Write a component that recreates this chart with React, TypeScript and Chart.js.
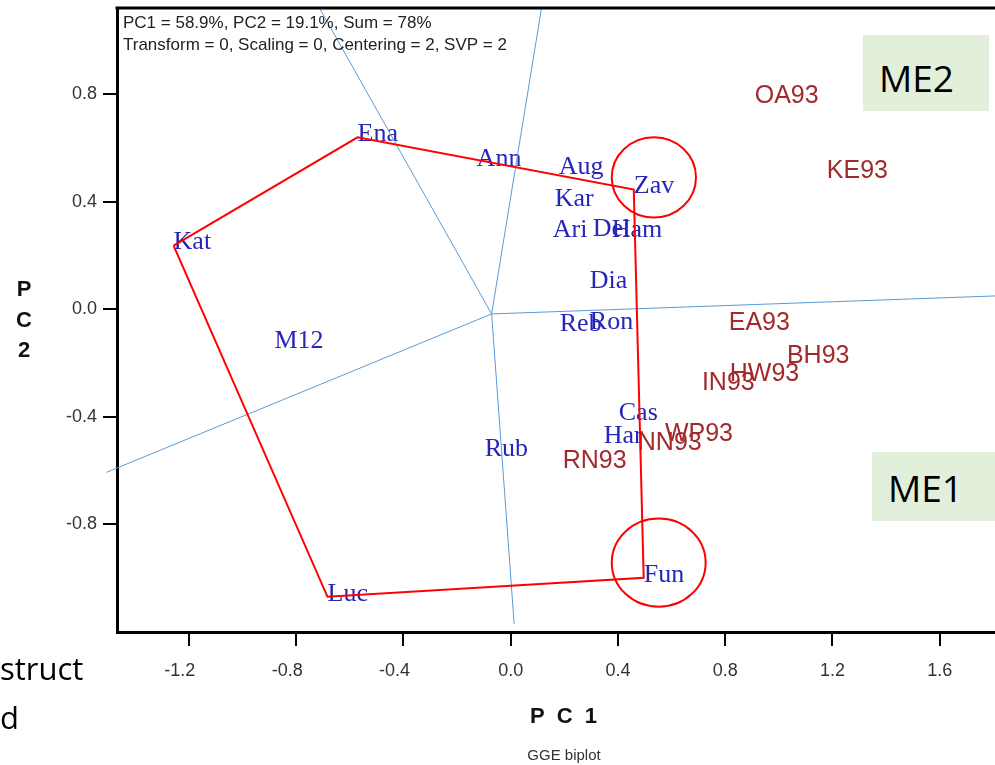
import React, { useEffect, useRef } from 'react';
import { Chart, registerables } from 'chart.js';

Chart.register(...registerables);

// ---- Data ----
const genotypeNames = ['Kat', 'Ena', 'Ann', 'Aug', 'Kar', 'Ari', 'Del', 'Ham', 'Zav', 'Dia', 'Reb', 'Ron', 'M12', 'Cas', 'Har', 'Rub', 'Fun', 'Luc'];
const genotypePC1 = [-1.257, -0.571, -0.127, 0.179, 0.164, 0.157, 0.306, 0.377, 0.459, 0.295, 0.183, 0.295, -0.881, 0.403, 0.347, -0.097, 0.496, -0.683];
const genotypePC2 = [0.237, 0.640, 0.547, 0.517, 0.397, 0.282, 0.289, 0.282, 0.446, 0.095, -0.065, -0.058, -0.129, -0.397, -0.483, -0.532, -0.998, -1.069];

const envNames = ['OA93', 'KE93', 'EA93', 'BH93', 'HW93', 'IN93', 'WP93', 'NN93', 'RN93'];
const envPC1 = [0.910, 1.179, 0.813, 1.030, 0.817, 0.713, 0.575, 0.474, 0.194];
const envPC2 = [0.782, 0.502, -0.062, -0.185, -0.252, -0.285, -0.476, -0.509, -0.576];

// polygon (convex hull) vertices, in drawing order
const hullOrder = ['Kat', 'Ena', 'Zav', 'Fun', 'Luc', 'Kat'];

// rays perpendicular to polygon sides: common origin and end points
const rayOriginPC1 = -0.071;
const rayOriginPC2 = -0.017;
const rayEndPC1 = [-0.713, 0.115, 1.806, -1.507, 0.013];
const rayEndPC2 = [1.121, 1.121, 0.050, -0.606, -1.170];

// highlighted genotypes (red circles): centre and radii in PC units
const circleCenterPC1 = [0.534, 0.552];
const circleCenterPC2 = [0.491, -0.942];
const circleRadiusPC1 = [0.157, 0.175];
const circleRadiusPC2 = [0.149, 0.164];

// axes
const xMin = -1.468;
const xMax = 1.806;
const yMin = -1.2;
const yMax = 1.121;
const tickStep = 0.4;

const headerLines = ['PC1 = 58.9%, PC2 = 19.1%, Sum = 78%', 'Transform = 0, Scaling = 0, Centering = 2, SVP = 2'];
const xTitle = 'P C 1';
const yTitleChars = ['P', 'C', '2'];
const footerText = 'GGE biplot';

const GENO_COLOR = '#2626B8';
const ENV_COLOR = '#A32A2C';
const RAY_COLOR = '#5B9BD5';
const HULL_COLOR = '#FF0000';

const biplotPlugin = {
  id: 'biplotDecor',
  beforeDatasetsDraw(chart: any) {
    const { ctx, scales } = chart;
    const xs = scales.x;
    const ys = scales.y;
    ctx.save();
    ctx.textAlign = 'left';
    ctx.textBaseline = 'middle';
    ctx.font = '26px "Liberation Serif", "Times New Roman", serif';
    ctx.fillStyle = GENO_COLOR;
    genotypeNames.forEach((n, i) => {
      ctx.fillText(n, xs.getPixelForValue(genotypePC1[i]), ys.getPixelForValue(genotypePC2[i]) - 3);
    });
    ctx.font = '25px "Liberation Sans", Arial, sans-serif';
    ctx.fillStyle = ENV_COLOR;
    envNames.forEach((n, i) => {
      ctx.fillText(n, xs.getPixelForValue(envPC1[i]), ys.getPixelForValue(envPC2[i]) - 3);
    });
    ctx.restore();
  },
  afterDatasetsDraw(chart: any) {
    const { ctx, scales } = chart;
    const xs = scales.x;
    const ys = scales.y;
    ctx.save();
    ctx.strokeStyle = HULL_COLOR;
    ctx.lineWidth = 2;
    circleCenterPC1.forEach((cx, i) => {
      const px = xs.getPixelForValue(cx);
      const py = ys.getPixelForValue(circleCenterPC2[i]);
      const rx = Math.abs(xs.getPixelForValue(cx + circleRadiusPC1[i]) - px);
      const ry = Math.abs(ys.getPixelForValue(circleCenterPC2[i] + circleRadiusPC2[i]) - py);
      ctx.beginPath();
      ctx.ellipse(px, py, rx, ry, 0, 0, Math.PI * 2);
      ctx.stroke();
    });
    ctx.restore();
  },
  afterDraw(chart: any) {
    const { ctx, chartArea } = chart;
    ctx.save();
    // top frame line
    ctx.strokeStyle = '#000';
    ctx.lineWidth = 3;
    ctx.beginPath();
    ctx.moveTo(chartArea.left - 1.5, chartArea.top);
    ctx.lineTo(chartArea.right, chartArea.top);
    ctx.stroke();
    // header
    ctx.fillStyle = '#222';
    ctx.font = '17px "Liberation Sans", Arial, sans-serif';
    ctx.textAlign = 'left';
    ctx.textBaseline = 'middle';
    ctx.fillText(headerLines[0], chartArea.left + 6, chartArea.top + 15);
    ctx.fillText(headerLines[1], chartArea.left + 6, chartArea.top + 37);
    // axis titles
    ctx.fillStyle = '#111';
    ctx.font = 'bold 22px "Liberation Sans", Arial, sans-serif';
    ctx.textAlign = 'center';
    (ctx as any).letterSpacing = '3px';
    ctx.fillText(xTitle, 565, 717);
    (ctx as any).letterSpacing = '0px';
    yTitleChars.forEach((c, i) => ctx.fillText(c, 24, 290 + i * 30.5));
    ctx.font = '15px "Liberation Sans", Arial, sans-serif';
    ctx.fillStyle = '#333';
    ctx.fillText(footerText, 564, 756);
    ctx.restore();
  },
};

const fmt = (v: number) => (Math.abs(v) < 1e-9 ? 0 : v).toFixed(1);
// x labels: the digits are centred on the tick, the minus sign hangs to the left
const fmtX = (v: number) => {
  const s = fmt(v);
  return s.startsWith('-') ? s + '\u2003' : s;
};

export default function App() {
  const ref = useRef<HTMLCanvasElement>(null);

  useEffect(() => {
    if (!ref.current) return;
    const pt = (name: string) => {
      const i = genotypeNames.indexOf(name);
      return { x: genotypePC1[i], y: genotypePC2[i] };
    };
    const rayDatasets = rayEndPC1.map((ex, i) => ({
      label: 'ray' + i,
      data: [
        { x: rayOriginPC1, y: rayOriginPC2 },
        { x: ex, y: rayEndPC2[i] },
      ],
      showLine: true,
      borderColor: RAY_COLOR,
      borderWidth: 1,
      pointRadius: 0,
      clip: { left: 15, top: 0, right: 0, bottom: 0 },
    }));

    const chart = new Chart(ref.current, {
      type: 'scatter',
      data: {
        datasets: [
          {
            label: 'hull',
            data: hullOrder.map(pt),
            showLine: true,
            borderColor: HULL_COLOR,
            borderWidth: 2,
            pointRadius: 0,
          },
          ...rayDatasets,
          {
            label: 'genotypes',
            data: genotypePC1.map((x, i) => ({ x, y: genotypePC2[i] })),
            pointRadius: 0,
          },
          {
            label: 'environments',
            data: envPC1.map((x, i) => ({ x, y: envPC2[i] })),
            pointRadius: 0,
          },
        ] as any,
      },
      options: {
        animation: false,
        responsive: false,
        devicePixelRatio: 1,
        layout: { padding: { top: 8, left: 0, right: 0, bottom: 0 } },
        plugins: { legend: { display: false }, tooltip: { enabled: false } },
        scales: {
          x: {
            type: 'linear',
            min: xMin,
            max: xMax,
            afterFit: (s: any) => {
              s.height = 133;
              s.paddingLeft = 0;
              s.paddingRight = 0;
            },
            ticks: {
              stepSize: tickStep,
              includeBounds: false,
              callback: (v: any) => fmtX(Number(v)),
              font: { family: '"Liberation Sans", Arial, sans-serif', size: 18 },
              color: '#333',
              padding: 14,
              maxRotation: 0,
            },
            grid: { display: true, drawOnChartArea: false, drawTicks: true, tickLength: 14, color: '#000', lineWidth: 2 },
            border: { display: true, color: '#000', width: 3 },
          },
          y: {
            type: 'linear',
            min: yMin,
            max: yMax,
            afterFit: (s: any) => {
              s.width = 117;
              s.paddingTop = 0;
              s.paddingBottom = 0;
            },
            ticks: {
              stepSize: tickStep,
              includeBounds: false,
              callback: (v: any) => fmt(Number(v)),
              font: { family: '"Liberation Sans", Arial, sans-serif', size: 18 },
              color: '#333',
              padding: 6,
            },
            grid: { display: true, drawOnChartArea: false, drawTicks: true, tickLength: 14, color: '#000', lineWidth: 2 },
            border: { display: true, color: '#000', width: 3 },
          },
        },
      } as any,
      plugins: [biplotPlugin],
    });
    return () => chart.destroy();
  }, []);

  const meText: React.CSSProperties = {
    position: 'absolute',
    fontFamily: '"Open Sans", "Liberation Sans", sans-serif',
    fontSize: 37,
    lineHeight: '37px',
    color: '#000',
    whiteSpace: 'nowrap',
  };
  const slideText: React.CSSProperties = {
    position: 'absolute',
    left: 0,
    fontFamily: '"Open Sans", "Liberation Sans", sans-serif',
    fontSize: 31,
    lineHeight: '31px',
    color: '#000',
    whiteSpace: 'nowrap',
  };

  return (
    <div style={{ position: 'absolute', left: 0, top: 0, width: 995, height: 765, background: '#fff', overflow: 'hidden' }}>
      <canvas ref={ref} width={995} height={765} style={{ position: 'absolute', left: 0, top: 0, width: 995, height: 765 }} />
      <div style={{ position: 'absolute', left: 863, top: 35, width: 126, height: 76, background: '#E2EFDA' }} />
      <div style={{ ...meText, left: 879, top: 59 }}>ME2</div>
      <div style={{ position: 'absolute', left: 872, top: 452, width: 123, height: 69, background: '#E2EFDA' }} />
      <div style={{ ...meText, left: 888, top: 469 }}>ME1</div>
      <div style={{ ...slideText, top: 653 }}>struct</div>
      <div style={{ ...slideText, top: 702 }}>d</div>
    </div>
  );
}
